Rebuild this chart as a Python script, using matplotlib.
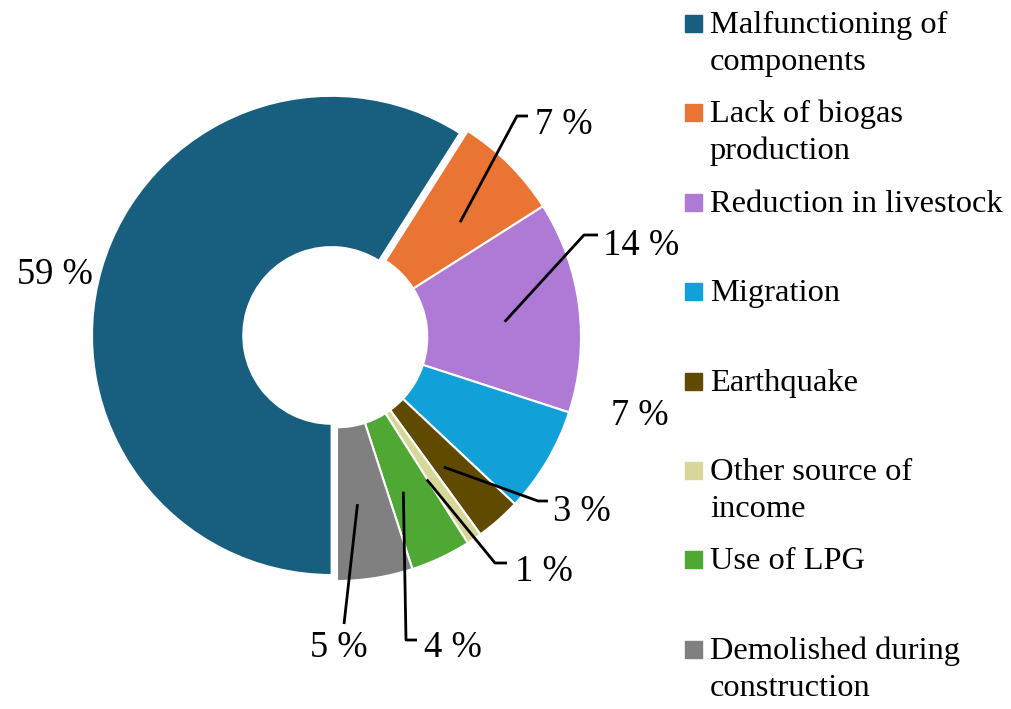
import matplotlib
matplotlib.use("Agg")
import matplotlib.pyplot as plt
import numpy as np
from matplotlib.patches import Rectangle
from matplotlib.lines import Line2D

# ---------------- data ----------------
categories = [
    "Malfunctioning of\ncomponents",
    "Lack of biogas\nproduction",
    "Reduction in livestock",
    "Migration",
    "Earthquake",
    "Other source of\nincome",
    "Use of LPG",
    "Demolished during\nconstruction",
]
values = [59, 7, 14, 7, 3, 1, 4, 5]
colors = ["#175E7F", "#EA7433", "#AE7AD6", "#12A0D8",
          "#604A00", "#D8D79A", "#4EA833", "#808080"]

# ---------------- layout (pixels, image coords from top-left) ----------------
W, H = 1012, 709
CX, CY, R = 337, 337, 244
FONT = "Liberation Serif"
LABEL_FS = 26.3
LEGEND_FS = 23.4
LEADER_ANGLE_OFFSET = -2.0  # degrees
LEADER_R = 0.69

# label text anchor (x, baseline y, ha) and leader path (pixel points after wedge point)
label_pos = [
    (93, 284, "right"),
    (535, 134, "left"),
    (603, 255, "left"),
    (611, 425, "left"),
    (553, 521, "left"),
    (515, 581, "left"),
    (424, 657, "left"),
    (310, 657, "left"),
]
leader_paths = [
    None,
    [(517, 116), (528, 116)],
    [(584, 235), (598, 235)],
    None,
    [(538, 501), (548, 501)],
    [(495, 563), (507, 563)],
    [(406, 640), (417, 640)],
    [(344, 624)],
]

fig = plt.figure(figsize=(W / 100, H / 100), dpi=100)
ax = fig.add_axes([(CX - R) / W, (H - CY - R) / H, 2 * R / W, 2 * R / H])

explode = [0.023, 0, 0, 0, 0, 0, 0, 0]
wedges, _ = ax.pie(values, colors=colors, startangle=270, counterclock=False,
                   radius=1.0, explode=explode,
                   wedgeprops=dict(width=0.63, edgecolor="white", linewidth=1.5))
wedges[0].set_radius(0.982)
wedges[0].set_width(0.62)
ax.set_xlim(-1, 1)
ax.set_ylim(-1, 1)
ax.axis("off")


def px2data(px, py):
    return (px - CX) / R, (CY - py) / R


def fig_xy(px, py):
    return px / W, 1 - py / H


# percentage labels with leader lines
for i, (w, v) in enumerate(zip(wedges, values)):
    lx, ly, ha = label_pos[i]
    fig.text(*fig_xy(lx, ly), f"{v} %", ha=ha, va="baseline",
             fontsize=LABEL_FS, family=FONT, color="black")
    path = leader_paths[i]
    if path:
        mid = np.deg2rad((w.theta1 + w.theta2) / 2 + LEADER_ANGLE_OFFSET)
        sx, sy = LEADER_R * np.cos(mid), LEADER_R * np.sin(mid)
        xs = [sx] + [px2data(*p)[0] for p in path]
        ys = [sy] + [px2data(*p)[1] for p in path]
        ax.add_line(Line2D(xs, ys, color="black", lw=2.0, clip_on=False,
                           solid_capstyle="butt"))

# legend (manual, square aligned with first text line)
sq = 17
first_c, step = 23.5, 89.4
for i, (cat, col) in enumerate(zip(categories, colors)):
    cy = first_c + i * step
    fig.patches.append(Rectangle(fig_xy(685, cy + sq / 2), sq / W, sq / H,
                                 transform=fig.transFigure, color=col,
                                 figure=fig))
    for j, line in enumerate(cat.split("\n")):
        fig.text(*fig_xy(710, cy + 9.5 + j * 37), line, ha="left",
                 va="baseline", fontsize=LEGEND_FS, family=FONT, color="black")

fig.savefig("out.png", dpi=100)
